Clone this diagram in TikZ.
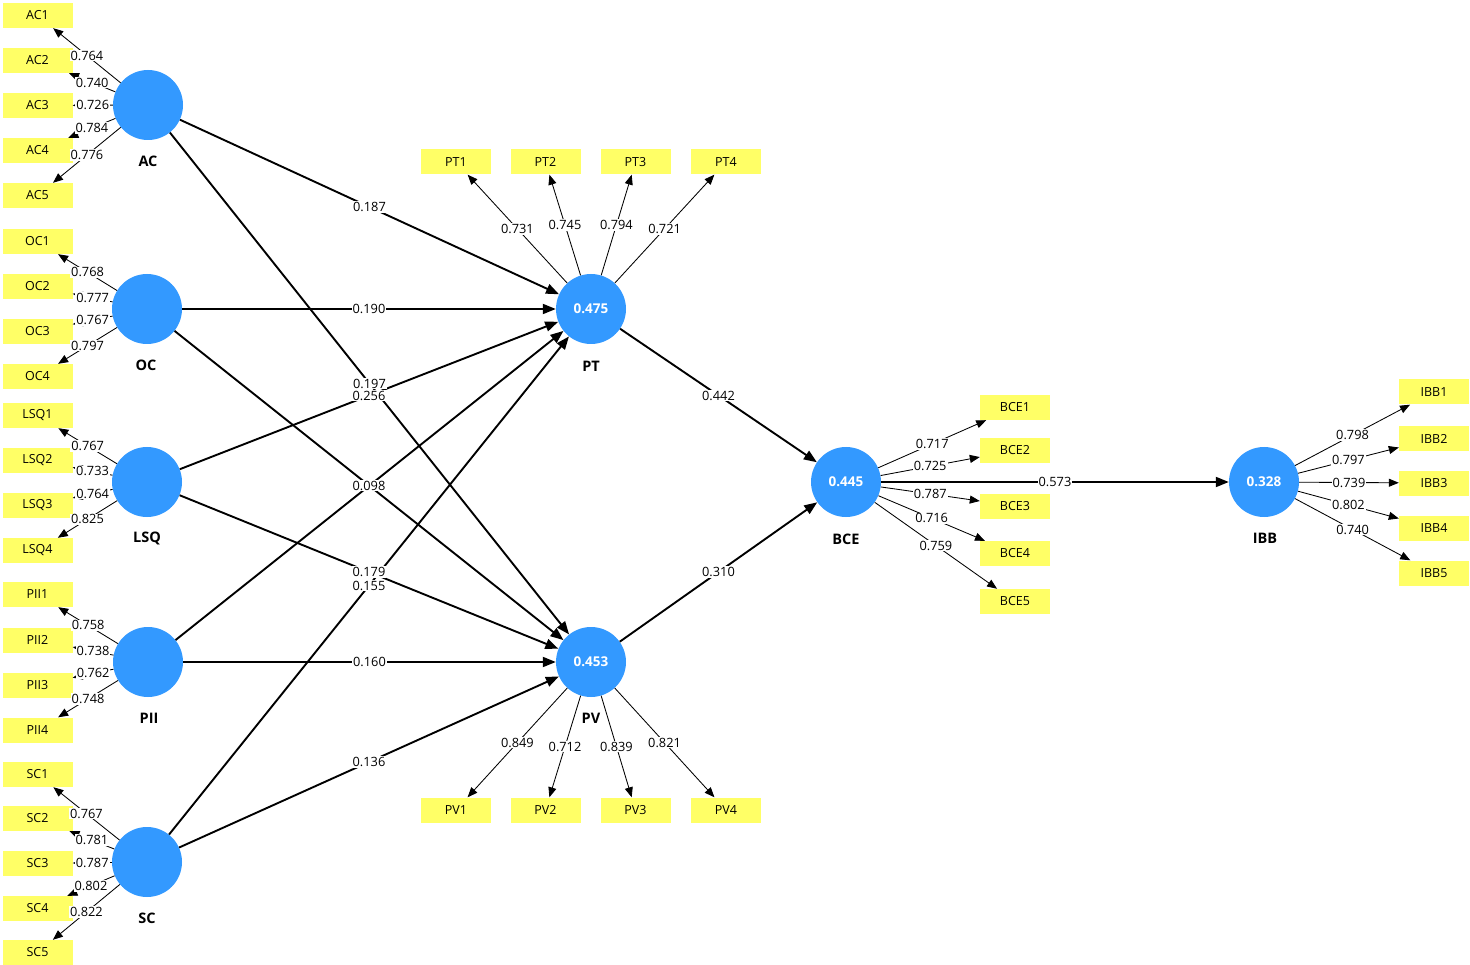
\documentclass[tikz,border=0pt]{standalone}
\usepackage{fontspec}
\setmainfont{Open Sans}
\usetikzlibrary{arrows.meta}
\definecolor{lvblue}{RGB}{51,153,255}
\definecolor{mvyel}{RGB}{255,255,102}
\tikzset{
 lv/.style={circle, fill=lvblue, minimum size=70pt, inner sep=0pt, text=white, font=\bfseries\fontsize{13.5}{16}\selectfont},
 mv/.style={rectangle, fill=mvyel, minimum width=70pt, minimum height=25pt, inner sep=0pt, font=\fontsize{12.5}{15}\selectfont},
 lvname/.style={font=\bfseries\fontsize{14.5}{17}\selectfont},
 innerarr/.style={line width=1.9pt, -{Triangle[length=13pt,width=10pt]}},
 outerarr/.style={line width=0.85pt, -{Triangle[length=10pt,width=8pt]}},
 coef/.style={fill=white, inner sep=1pt, font=\fontsize{12.8}{15}\selectfont},
}
\begin{document}
\begin{tikzpicture}[x=1pt,y=-1pt]
\useasboundingbox (0,-1) rectangle (1470,964);
\fill[white] (0,-1) rectangle (1470,964);
% latent variables
\node[lv] (AC)  at (148,104) {};
\node[lv] (OC)  at (147,308) {};
\node[lv] (LSQ) at (147,481) {};
\node[lv] (PII) at (148,661) {};
\node[lv] (SC)  at (147,861) {};
\node[lv] (PT)  at (591,308) {0.475};
\node[lv] (PV)  at (591,661) {0.453};
\node[lv] (BCE) at (846,481) {0.445};
\node[lv] (IBB) at (1264,481) {0.328};
% names
\node[lvname] (ACn)  at (148,160) {AC};
\node[lvname] (OCn)  at (146,364) {OC};
\node[lvname] (LSQn) at (147,537) {LSQ};
\node[lvname] (PIIn) at (149,717) {PII};
\node[lvname] (SCn)  at (147,917) {SC};
\node[lvname] (PTn)  at (591,365) {PT};
\node[lvname] (PVn)  at (591,717) {PV};
\node[lvname] (BCEn) at (846,538) {BCE};
\node[lvname] (IBBn) at (1265,537) {IBB};
% indicators
\foreach \n/\x/\y in {AC1/37.5/14.5, AC2/37.5/59.5, AC3/37.5/104.5, AC4/37.5/149.5, AC5/37.5/194.5,
  OC1/37.5/240.5, OC2/37.5/285.5, OC3/37.5/330.5, OC4/37.5/375.5,
  LSQ1/37.5/414.5, LSQ2/37.5/459.5, LSQ3/37.5/504.5, LSQ4/37.5/549.5,
  PII1/37.5/593.5, PII2/37.5/639, PII3/37.5/684, PII4/37.5/729,
  SC1/37.5/773.5, SC2/37.5/817.5, SC3/37.5/862.5, SC4/37.5/907.5, SC5/37.5/951.5,
  PT1/456/161, PT2/545.5/161, PT3/635.5/161, PT4/726/161,
  PV1/456/809, PV2/545.5/809, PV3/635.5/809, PV4/726/809,
  BCE1/1015/406.5, BCE2/1015/449.5, BCE3/1015/505, BCE4/1015/552.5, BCE5/1015/600.5,
  IBB1/1434/391, IBB2/1434/437.5, IBB3/1434/482, IBB4/1434/527, IBB5/1434/572}
  {\node[mv] (\n) at (\x,\y) {\n};}
% outer arrows
\def\outerlist{AC/AC1/0.764, AC/AC2/0.740, AC/AC3/0.726, AC/AC4/0.784, AC/AC5/0.776,
  OC/OC1/0.768, OC/OC2/0.777, OC/OC3/0.767, OC/OC4/0.797,
  LSQ/LSQ1/0.767, LSQ/LSQ2/0.733, LSQ/LSQ3/0.764, LSQ/LSQ4/0.825,
  PII/PII1/0.758, PII/PII2/0.738, PII/PII3/0.762, PII/PII4/0.748,
  SC/SC1/0.767, SC/SC2/0.781, SC/SC3/0.787, SC/SC4/0.802, SC/SC5/0.822,
  PT/PT1/0.731, PT/PT2/0.745, PT/PT3/0.794, PT/PT4/0.721,
  PV/PV1/0.849, PV/PV2/0.712, PV/PV3/0.839, PV/PV4/0.821,
  BCE/BCE1/0.717, BCE/BCE2/0.725, BCE/BCE3/0.787, BCE/BCE4/0.716, BCE/BCE5/0.759,
  IBB/IBB1/0.798, IBB/IBB2/0.797, IBB/IBB3/0.739, IBB/IBB4/0.802, IBB/IBB5/0.740}
\foreach \a/\b/\v in \outerlist {\draw[outerarr] (\a) -- (\b);}
% inner arrows
\foreach \a/\b in {AC/PT, AC/PV, OC/PT, PII/PT, OC/PV, LSQ/PT,
  LSQ/PV, SC/PT, PII/PV, SC/PV, PT/BCE, PV/BCE, BCE/IBB} {\draw[innerarr] (\a) -- (\b);}
% labels
\foreach \a/\b/\v in \outerlist {\path (\a) -- (\b) node[coef,midway] {\v};}
\path (AC) -- (PT) node[coef,midway] {0.187};
\path (AC) -- (PV) node[coef,midway] {0.197};
\path (OC) -- (PT) node[coef,midway] {0.190};
\path (OC) -- (PV) node[coef,midway] {0.098};
\path (LSQ) -- (PT) node[coef,midway] {0.256};
\path (LSQ) -- (PV) node[coef,midway] {0.179};
\path (SC) -- (PT) node[coef,midway] {0.155};
\path (PII) -- (PV) node[coef,midway] {0.160};
\path (SC) -- (PV) node[coef,midway] {0.136};
\path (PT) -- (BCE) node[coef,midway] {0.442};
\path (PV) -- (BCE) node[coef,midway] {0.310};
\path (BCE) -- (IBB) node[coef,midway] {0.573};
\end{tikzpicture}
\end{document}
